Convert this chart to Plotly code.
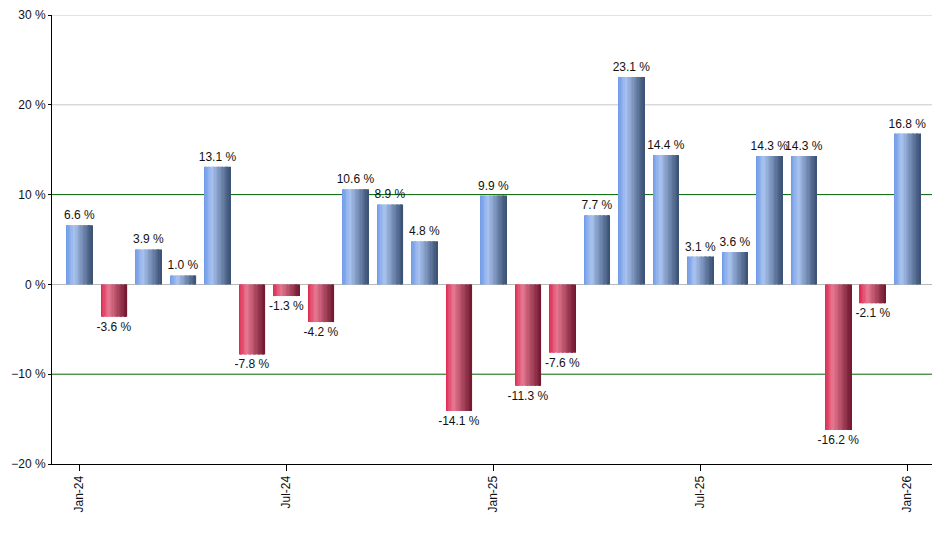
import plotly.graph_objects as go

months = ["Jan-24", "Feb-24", "Mar-24", "Apr-24", "May-24", "Jun-24", "Jul-24", "Aug-24",
          "Sep-24", "Oct-24", "Nov-24", "Dec-24", "Jan-25", "Feb-25", "Mar-25", "Apr-25",
          "May-25", "Jun-25", "Jul-25", "Aug-25", "Sep-25", "Oct-25", "Nov-25", "Dec-25", "Jan-26"]
returns = [6.6, -3.6, 3.9, 1.0, 13.1, -7.8, -1.3, -4.2, 10.6, 8.9, 4.8, -14.1, 9.9,
           -11.3, -7.6, 7.7, 23.1, 14.4, 3.1, 3.6, 14.3, 14.3, -16.2, -2.1, 16.8]
shown_ticks = ["Jan-24", "Jul-24", "Jan-25", "Jul-25", "Jan-26"]
tick_text = ["Jan-24", "Jul-24", "Jan-25", "Jul-25", "Jan-26"]
green_lines = [-10, 10]
gray_lines = [20, 30]

# gradient stops (pos, rgb) left -> right across each bar
blue_stops = [(0.0, (110, 152, 230)), (0.3, (170, 196, 240)), (1.0, (58, 80, 115))]
red_stops = [(0.0, (220, 40, 80)), (0.3, (232, 120, 145)), (1.0, (112, 24, 48))]


def grad(stops, t):
    for (p0, c0), (p1, c1) in zip(stops[:-1], stops[1:]):
        if p0 <= t <= p1:
            f = (t - p0) / (p1 - p0)
            c = [int(round(a + (b - a) * f)) for a, b in zip(c0, c1)]
            return f"rgb({c[0]},{c[1]},{c[2]})"
    c = stops[-1][1]
    return f"rgb({c[0]},{c[1]},{c[2]})"


fig = go.Figure()

for g in gray_lines:
    fig.add_hline(y=g, line=dict(color="#c8c8c8", width=1), layer="below")
for g in green_lines:
    fig.add_hline(y=g, line=dict(color="#006400", width=1), layer="below")

bar_w = 0.75
n_slices = 20
sw = bar_w / n_slices
for i in range(n_slices):
    t = (i + 0.5) / n_slices
    cols = [grad(blue_stops, t) if v >= 0 else grad(red_stops, t) for v in returns]
    fig.add_trace(go.Bar(x=months, y=returns, width=sw * 1.1, offset=-bar_w / 2 + i * sw,
                         marker=dict(color=cols, line=dict(width=0)),
                         hoverinfo="skip", showlegend=False))

# labels
fig.add_trace(go.Bar(x=months, y=returns, width=bar_w, offset=-bar_w / 2,
                     marker=dict(color="rgba(0,0,0,0)", line=dict(width=0)),
                     text=[f"{v:.1f} %" for v in returns], textposition="outside",
                     constraintext="none",
                     textfont=dict(family="Liberation Sans, Arial", size=12, color="#111"),
                     cliponaxis=False, showlegend=False))

fig.update_layout(
    width=940, height=550,
    margin=dict(l=44, r=13, t=7, b=94, autoexpand=False),
    barmode="overlay",
    plot_bgcolor="white", paper_bgcolor="white",
    font=dict(family="Liberation Sans, Arial", size=12, color="#111"),
    showlegend=False,
)
fig.update_xaxes(type="category", categoryorder="array", categoryarray=months,
                 tickmode="array", tickvals=shown_ticks, ticktext=tick_text, tickangle=-90,
                 ticks="outside", ticklen=6, tickcolor="black", automargin=False,
                 showline=True, linecolor="black", linewidth=1, showgrid=False,
                 range=[-0.8, len(months) - 0.2])
fig.update_yaxes(range=[-20, 30], dtick=10, ticksuffix=" %", automargin=False,
                 ticklabeloverflow="allow",
                 ticks="outside", ticklen=3, tickcolor="black",
                 showline=True, linecolor="black", linewidth=1,
                 showgrid=False,
                 zeroline=True, zerolinecolor="#b8b8b8", zerolinewidth=1)

fig.write_html("out.html")
